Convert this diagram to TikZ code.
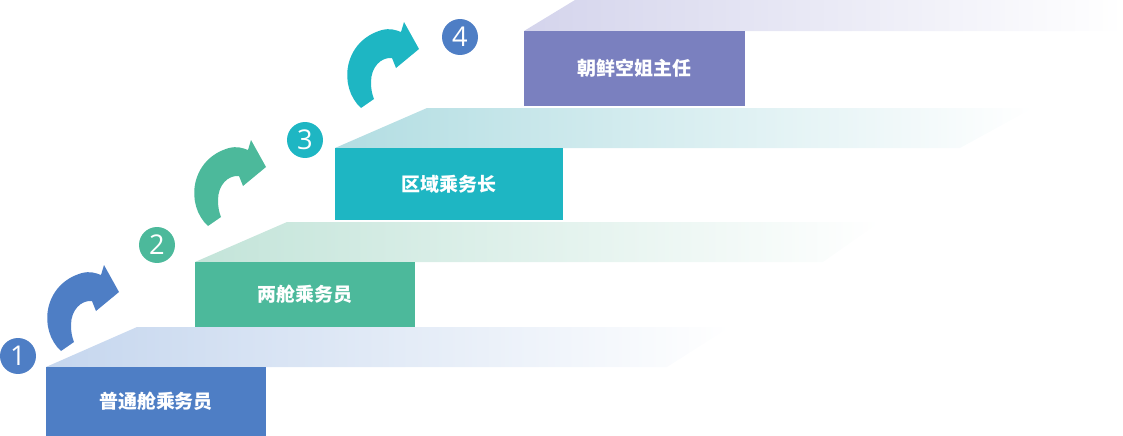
\documentclass[tikz,border=0pt]{standalone}
\usepackage{fontspec}
\newfontfamily\cjk{Noto Sans CJK SC}
\newfontfamily\numfont{Open Sans}
\definecolor{stepblue}{HTML}{4E7EC5}
\definecolor{stepgreen}{HTML}{4CB99B}
\definecolor{stepteal}{HTML}{1EB6C3}
\definecolor{steppurple}{HTML}{7A80BF}
\definecolor{faceblue}{HTML}{C5D6EE}
\definecolor{facegreen}{HTML}{C3E4D9}
\definecolor{faceteal}{HTML}{B2DDE2}
\definecolor{facepurple}{HTML}{D4D4EC}
\tikzset{
  stepbox/.style={inner sep=0pt, text=white, font=\cjk\bfseries\fontsize{10.8}{12}\selectfont},
  numdot/.style={circle, inner sep=0pt, minimum size=0.72cm, text=white, font=\numfont\fontsize{15.5}{16}\selectfont},
}
\begin{document}
\begin{tikzpicture}[x=0.02cm,y=-0.02cm]
\useasboundingbox (0,0) rectangle (1123,436);
% top faces of the steps
\shade[left color=faceblue, right color=white] (46,367) -- (137,327) -- (730,327) -- (667,367) -- cycle;
\shade[left color=facegreen, right color=white] (195,262) -- (287,222) -- (880,222) -- (823,262) -- cycle;
\shade[left color=faceteal, right color=white] (335,148) -- (427,108) -- (1033,108) -- (960,148) -- cycle;
\shade[left color=facepurple, right color=white] (524,31) -- (575,0) -- (1123,0) -- (1123,31) -- cycle;
% steps
\node[stepbox, fill=stepblue, minimum width=4.4cm, minimum height=1.38cm] (lvl1) at (156,401.5) {普通舱乘务员};
\node[stepbox, fill=stepgreen, minimum width=4.4cm, minimum height=1.3cm] (lvl2) at (305,294.5) {两舱乘务员};
\node[stepbox, fill=stepteal, minimum width=4.56cm, minimum height=1.44cm] (lvl3) at (449,184) {区域乘务长};
\node[stepbox, fill=steppurple, minimum width=4.42cm, minimum height=1.5cm] (lvl4) at (634.5,68.5) {朝鲜空姐主任};
% numbers
\node[numdot, fill=stepblue] (num1) at (18,356) {1};
\node[numdot, fill=stepgreen] (num2) at (157,245) {2};
\node[numdot, fill=stepteal] (num3) at (305,140) {3};
\node[numdot, fill=stepblue] (num4) at (460,37) {4};
% curved arrows
\foreach \dx/\dy/\col in {0/0/stepblue, 147/-125/stepgreen, 300/-243/stepteal}
  \fill[\col, shift={(\dx,\dy)}] (61,351) .. controls (38,330) and (43,284) .. (82,273)
    .. controls (90,271) and (96,273) .. (101,275) -- (104,265) -- (119,292) -- (96,311) -- (92,301)
    .. controls (81,300) and (71,310) .. (71,325) .. controls (71,332) and (72,337) .. (74,342) -- cycle;
\end{tikzpicture}
\end{document}
